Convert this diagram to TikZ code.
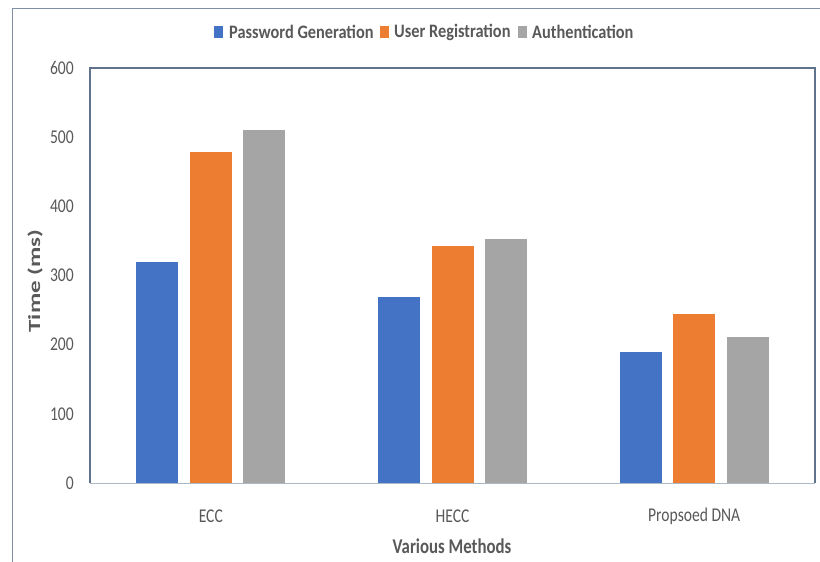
\documentclass[tikz,border=0pt]{standalone}
\usepackage{fontspec}
\setmainfont{Carlito}
\definecolor{pgblue}{HTML}{4472C4}
\definecolor{urorange}{HTML}{ED7D31}
\definecolor{augray}{HTML}{A5A5A5}
\definecolor{txtgray}{HTML}{595959}
\definecolor{framecol}{RGB}{95,115,140}
\definecolor{axiscol}{RGB}{170,185,200}
\newcommand\cmpx[1]{\scalebox{0.8}[1]{#1}}
\newcommand\cmplx[1]{\scalebox{0.86}[1]{#1}}
\newcommand\cmpy[1]{\scalebox{1}[0.68]{#1}}
\tikzset{
  plotframe/.style={draw=framecol, line width=1.1pt},
  outerframe/.style={draw=framecol!80, line width=1pt},
  axisline/.style={draw=axiscol, line width=1pt},
  ticklab/.style={text=txtgray, font=\fontsize{19.5}{19.5}\selectfont, inner sep=0pt},
  catlab/.style={text=txtgray, font=\fontsize{19.5}{19.5}\selectfont, inner sep=0pt},
  titlelab/.style={text=txtgray, font=\fontsize{21}{21}\selectfont\bfseries, inner sep=0pt},
  ytitlelab/.style={text=txtgray, font=\fontsize{25}{25}\selectfont\bfseries, inner sep=0pt},
  leglab/.style={text=txtgray, font=\fontsize{19}{19}\selectfont\bfseries, inner sep=0pt, anchor=west},
  legsq/.style={minimum width=9pt, minimum height=12pt, inner sep=0pt, anchor=west}
}
\begin{document}
\begin{tikzpicture}[x=1pt,y=-1pt]
\useasboundingbox (0,0) rectangle (820,562);
\fill[white] (0,0) rectangle (820,562);
% outer chart frame
\draw[outerframe] (12,562) -- (12,8) -- (820,8);
% bars
\def\ys{0.69167}
\foreach \cx/\a/\b/\c in {210.8/320/478/511, 452.5/269/343/353, 694.2/189/245/211}{
  \fill[pgblue]    (\cx-53.5-21,483) rectangle (\cx-53.5+21,483-\a*\ys);
  \fill[urorange]  (\cx-21,483) rectangle (\cx+21,483-\b*\ys);
  \fill[augray]    (\cx+53.5-21,483) rectangle (\cx+53.5+21,483-\c*\ys);
}
% plot frame
\draw[plotframe] (90,483) -- (90,68) -- (815,68) -- (815,483);
\draw[axisline] (90,483) -- (815,483);
% tick labels
\foreach \v in {0,100,...,600}{
  \node[ticklab, anchor=east] (t\v) at (74,483-\v*\ys) {\cmpx{\v}};
}
% category labels
\node[catlab] (ecc) at (210.8,516) {\cmpx{ECC}};
\node[catlab] (hecc) at (452.5,516) {\cmpx{HECC}};
\node[catlab] (dna) at (694.2,516) {\cmpx{Propsoed DNA}};
% axis titles
\node[titlelab] (xtitle) at (452,546) {\cmpx{Various Methods}};
\node[ytitlelab, rotate=90] (ytitle) at (35,281) {\cmpy{Time (ms)}};
% legend
\node[legsq, fill=pgblue] (sq1) at (214,32) {};
\node[leglab] (l1) at (229,32) {\cmplx{Password Generation}};
\node[legsq, fill=urorange] (sq2) at (380,32) {};
\node[leglab] (l2) at (394,32) {\cmplx{User Registration}};
\node[legsq, fill=augray] (sq3) at (518,32) {};
\node[leglab] (l3) at (532,32) {\cmplx{Authentication}};
\end{tikzpicture}
\end{document}
